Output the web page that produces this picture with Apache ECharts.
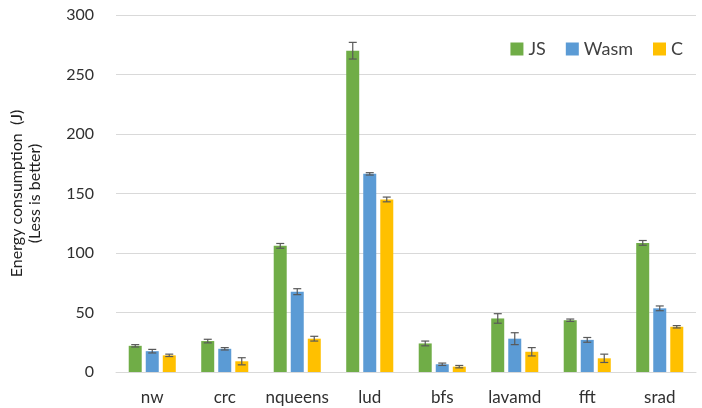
<!DOCTYPE html>
<html>
<head>
<meta charset="utf-8">
<script src="https://cdn.jsdelivr.net/npm/echarts@6/dist/echarts.min.js"></script>
<style>
  html, body { margin: 0; padding: 0; background: #fff; }
  #chart { width: 702px; height: 408px; }
</style>
</head>
<body>
<div id="chart"></div>
<script>
// Benchmarks and measured energy (J), mean and error per runtime
const categories = ['nw', 'crc', 'nqueens', 'lud', 'bfs', 'lavamd', 'fft', 'srad'];
const seriesNames = ['JS', 'Wasm', 'C'];
const jsValues   = [22, 26, 106, 270, 24, 45, 43.5, 108.5];
const wasmValues = [17.5, 19.5, 67.5, 166.5, 6.5, 28, 27, 53.5];
const cValues    = [14, 9, 28, 145, 4.5, 17, 11.5, 38];
const jsErr   = [1, 1.5, 2, 7, 2, 4, 1, 2];
const wasmErr = [1.5, 1, 2.5, 1, 1, 5, 2, 2];
const cErr    = [1, 3, 2, 2, 1, 3.5, 3.5, 1];
const yTicks = [0, 50, 100, 150, 200, 250, 300];

const colors = ['#70AD47', '#5B9BD5', '#FFC000'];
const values = [jsValues, wasmValues, cValues];
const errors = [jsErr, wasmErr, cErr];
const FONT = 'Lato, "Open Sans", sans-serif';
const BAR_W = 13;
const BAR_STEP = 17;

const chart = echarts.init(document.getElementById('chart'));

const barSeries = seriesNames.map((name, k) => ({
  name: name,
  type: 'bar',
  data: values[k],
  barWidth: BAR_W,
  barGap: '31%',
  itemStyle: { color: colors[k] },
  emphasis: { disabled: true },
  z: 2
}));

const errorSeries = seriesNames.map((name, k) => ({
  name: name + ' error',
  type: 'custom',
  data: values[k].map((v, i) => [i, v, errors[k][i]]),
  encode: { x: 0, y: 1 },
  z: 3,
  silent: true,
  renderItem: function (params, api) {
    const i = api.value(0);
    const v = api.value(1);
    const e = api.value(2);
    const hi = api.coord([i, v + e]);
    const lo = api.coord([i, v - e]);
    const x = hi[0] + (k - 1) * BAR_STEP;
    const cap = 4;
    const style = { stroke: '#595959', lineWidth: 1.2 };
    return {
      type: 'group',
      children: [
        { type: 'line', shape: { x1: x, y1: hi[1], x2: x, y2: lo[1] }, style: style },
        { type: 'line', shape: { x1: x - cap, y1: hi[1], x2: x + cap, y2: hi[1] }, style: style },
        { type: 'line', shape: { x1: x - cap, y1: lo[1], x2: x + cap, y2: lo[1] }, style: style }
      ]
    };
  }
}));

chart.setOption({
  animation: false,
  textStyle: { fontFamily: FONT },
  grid: { left: 110, right: 6, top: 15, bottom: 36 },
  legend: {
    data: seriesNames,
    right: 14,
    top: 35,
    itemWidth: 13,
    itemHeight: 13,
    itemGap: 20,
    icon: 'rect',
    textStyle: { fontSize: 18, color: '#404040', fontFamily: FONT }
  },
  xAxis: {
    type: 'category',
    data: categories,
    axisLine: { show: true, lineStyle: { color: '#d9d9d9', width: 1 } },
    axisTick: { show: false },
    axisLabel: { interval: 0, hideOverlap: false, fontSize: 17, color: '#303030', margin: 17, fontFamily: FONT }
  },
  yAxis: {
    type: 'value',
    min: yTicks[0],
    max: yTicks[yTicks.length - 1],
    interval: 50,
    name: 'Energy consumption  (J)\n(Less is better)',
    nameLocation: 'middle',
    nameGap: 72,
    nameTextStyle: { fontSize: 16, color: '#202020', lineHeight: 18, fontFamily: FONT },
    axisLine: { show: false },
    axisTick: { show: false },
    axisLabel: { fontSize: 16, color: '#303030', margin: 22, fontFamily: FONT },
    splitLine: { lineStyle: { color: '#d9d9d9', width: 1 } }
  },
  series: barSeries.concat(errorSeries)
});
</script>
</body>
</html>
